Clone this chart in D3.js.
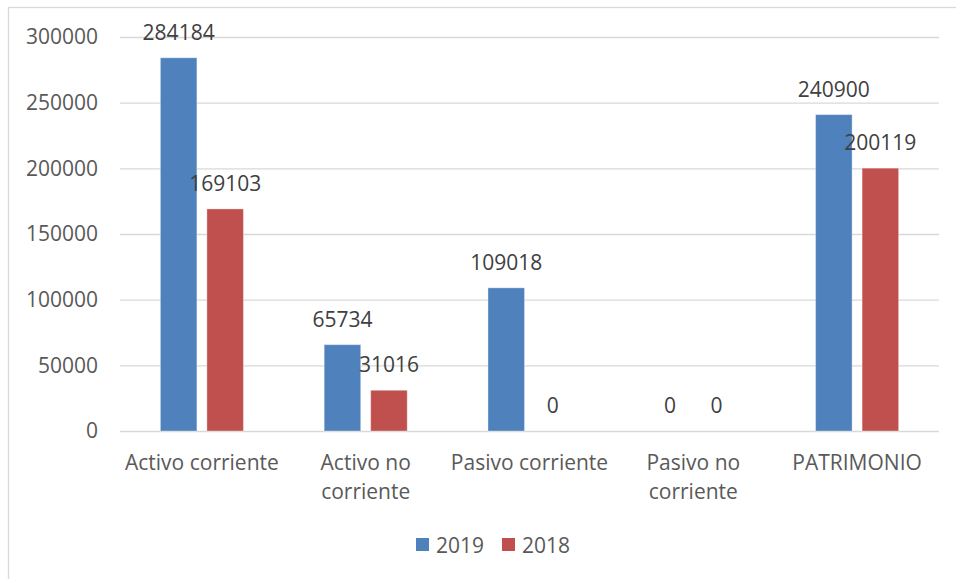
<!DOCTYPE html>
<html>
<head>
<meta charset="utf-8">
<script src="https://cdn.jsdelivr.net/npm/d3@7"></script>
<style>
  html, body { margin: 0; padding: 0; background: #fff; }
  svg { display: block; }
  text { font-family: "Open Sans", "Liberation Sans", sans-serif; }
</style>
</head>
<body>
<svg id="chart" width="956" height="579"></svg>
<script>
const categories = ["Activo corriente", "Activo no corriente", "Pasivo corriente", "Pasivo no corriente", "PATRIMONIO"];
const seriesNames = ["2019", "2018"];
const values2019 = [284184, 65734, 109018, 0, 240900];
const values2018 = [169103, 31016, 0, 0, 200119];
const yTicks = [0, 50000, 100000, 150000, 200000, 250000, 300000];
const colors = ["#4f81bd", "#c0504d"];

const W = 956, H = 579;
const svg = d3.select("#chart");
const plot = { left: 120, right: 939, top: 37, bottom: 431 };

// outer chart border (only top and left visible inside the frame)
svg.append("rect")
  .attr("x", 8.5).attr("y", 7.5)
  .attr("width", W + 10).attr("height", H + 10)
  .attr("fill", "#fff").attr("stroke", "#d9d9d9").attr("stroke-width", 1.3);

const x = d3.scaleBand().domain(categories).range([plot.left, plot.right]).padding(0);
const y = d3.scaleLinear().domain([0, 300000]).range([plot.bottom, plot.top]);

// gridlines
const yAxis = d3.axisLeft(y).tickValues(yTicks).tickSize(-(plot.right - plot.left)).tickFormat(d => String(d)).tickPadding(22);
const gy = svg.append("g").attr("transform", `translate(${plot.left},0)`).call(yAxis);
gy.select(".domain").remove();
gy.selectAll(".tick line").attr("stroke", "#d9d9d9").attr("stroke-width", 1.3);
gy.selectAll(".tick text")
  .attr("fill", "#595959").attr("font-size", 21)
  .attr("font-family", "'Open Sans', 'Liberation Sans', sans-serif");

// bars
const bw = x.bandwidth();
const barW = bw * 0.223;
const gap = bw * 0.061;
const series = [values2019, values2018];
const groupW = 2 * barW + gap;
const xs = d3.scaleBand().domain([0, 1]).range([0, groupW]).paddingInner(gap / (barW + gap)).paddingOuter(0);

series.forEach((vals, si) => {
  const g = svg.append("g");
  const offset = (bw - groupW) / 2;
  g.selectAll("rect").data(vals).enter().append("rect")
    .attr("x", (d, i) => x(categories[i]) + offset + xs(si))
    .attr("y", d => y(d))
    .attr("width", xs.bandwidth())
    .attr("height", d => y(0) - y(d))
    .attr("fill", colors[si])
    .attr("stroke", "#ffffff").attr("stroke-opacity", 0.35).attr("stroke-width", 1);
  g.selectAll("text").data(vals).enter().append("text")
    .attr("x", (d, i) => x(categories[i]) + offset + xs(si) + xs.bandwidth() / 2)
    .attr("y", d => y(d) - 18)
    .attr("text-anchor", "middle")
    .attr("fill", "#404040").attr("font-size", 21)
    .text(d => String(d));
});

// category labels with wrapping
const catG = svg.append("g");
categories.forEach(c => {
  const cx = x(c) + bw / 2;
  const t = catG.append("text").attr("x", cx).attr("y", 470)
    .attr("text-anchor", "middle").attr("fill", "#595959").attr("font-size", 21);
  const words = c.split(" ");
  let lines = [];
  let line = [];
  const probe = catG.append("text").attr("font-size", 21);
  words.forEach(w => {
    const test = line.concat([w]).join(" ");
    probe.text(test);
    if (probe.node().getComputedTextLength() > bw - 4 && line.length) {
      lines.push(line.join(" "));
      line = [w];
    } else {
      line.push(w);
    }
  });
  lines.push(line.join(" "));
  probe.remove();
  lines.forEach((l, i) => {
    t.append("tspan").attr("x", cx).attr("y", 470 + i * 29).text(l);
  });
});

// legend
const legend = svg.append("g");
const legendItems = [{ name: seriesNames[0], x: 416 }, { name: seriesNames[1], x: 502 }];
legendItems.forEach((it, i) => {
  legend.append("rect").attr("x", it.x).attr("y", 538).attr("width", 13).attr("height", 13).attr("fill", colors[i]);
  legend.append("text").attr("x", it.x + 20).attr("y", 552.5)
    .attr("fill", "#595959").attr("font-size", 21).text(it.name);
});
</script>
</body>
</html>
